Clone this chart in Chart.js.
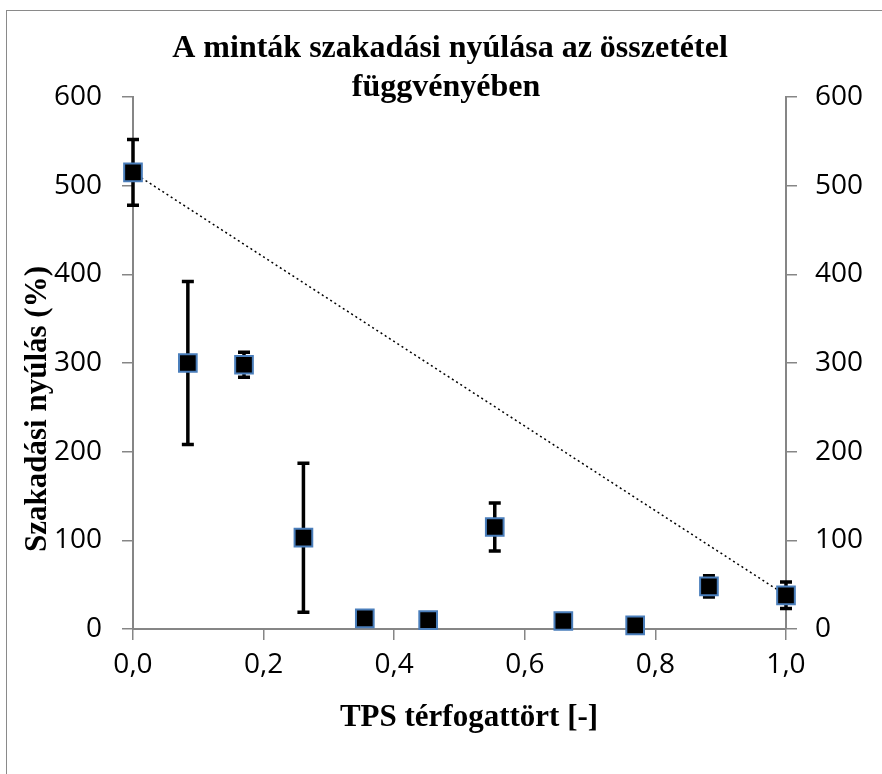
<!DOCTYPE html>
<html>
<head>
<meta charset="utf-8">
<script src="https://cdn.jsdelivr.net/npm/chart.js@4/dist/chart.umd.min.js"></script>
<style>
  html, body { margin: 0; padding: 0; background: #fff; overflow: hidden; }
  #wrap { position: relative; width: 882px; height: 774px; }
  #frame { position: absolute; left: 6px; top: 10px; width: 900px; height: 800px;
           border: 1.5px solid #8a8a8a; pointer-events: none; }
  canvas { position: absolute; left: 0; top: 0; }
</style>
</head>
<body>
<div id="wrap">
  <canvas id="myChart" width="882" height="774"></canvas>
  <div id="frame"></div>
</div>
<script>
// TPS volume fraction and elongation at break (%), with error bar half-widths
var tpsFraction = [0, 0.084, 0.170, 0.261, 0.355, 0.452, 0.554, 0.659, 0.769, 0.882, 1.0];
var elongation = [515, 300, 298, 103, 12, 10, 115, 9, 4, 48, 38];
var elongationErr = [37, 92, 14, 84, 0, 0, 27, 0, 0, 12, 15];
// dotted trend line end points
var trendX = [0, 1.0];
var trendY = [515, 38];

var titleLines = ['A minták szakadási nyúlása az összetétel', 'függvényében'];
var xTitle = 'TPS térfogattört [-]';
var yTitle = 'Szakadási nyúlás (%)';

var points = [];
for (var i = 0; i < tpsFraction.length; i++) {
  points.push({ x: tpsFraction[i], y: elongation[i] });
}
var trend = [];
for (var j = 0; j < trendX.length; j++) {
  trend.push({ x: trendX[j], y: trendY[j] });
}

var axisGray = '#868686';
var tickFont = { family: '"Open Sans", sans-serif', size: 28 };
var serif = '"Liberation Serif", "Times New Roman", serif';

// error bars drawn under the markers
var errorBars = {
  id: 'errorBars',
  beforeDatasetsDraw: function (chart) {
    var ctx = chart.ctx;
    var xs = chart.scales.x, ys = chart.scales.y;
    ctx.save();
    ctx.strokeStyle = '#000';
    ctx.lineWidth = 3.5;
    for (var k = 0; k < tpsFraction.length; k++) {
      if (!elongationErr[k]) continue;
      var px = xs.getPixelForValue(tpsFraction[k]);
      var top = ys.getPixelForValue(elongation[k] + elongationErr[k]);
      var bot = ys.getPixelForValue(elongation[k] - elongationErr[k]);
      ctx.beginPath();
      ctx.moveTo(px, top); ctx.lineTo(px, bot);
      ctx.moveTo(px - 6, top); ctx.lineTo(px + 6, top);
      ctx.moveTo(px - 6, bot); ctx.lineTo(px + 6, bot);
      ctx.stroke();
    }
    ctx.restore();
  }
};

// chart title and axis titles placed where Excel put them
var titles = {
  id: 'titles',
  afterDraw: function (chart) {
    var ctx = chart.ctx;
    ctx.save();
    ctx.fillStyle = '#000';
    ctx.textAlign = 'center';
    ctx.textBaseline = 'middle';
    ctx.font = 'bold 32px ' + serif;
    ctx.fillText(titleLines[0], 450, 49);
    ctx.fillText(titleLines[1], 446, 88);
    ctx.font = 'bold 31px ' + serif;
    ctx.fillText(xTitle, 469, 718);
    ctx.translate(38, 409);
    ctx.rotate(-Math.PI / 2);
    ctx.fillText(yTitle, 0, 0);
    ctx.restore();
  }
};

var ctx = document.getElementById('myChart').getContext('2d');
var chart = new Chart(ctx, {
  type: 'scatter',
  data: {
    datasets: [{
      label: 'trend',
      type: 'line',
      data: trend,
      borderColor: '#000',
      borderWidth: 1.5,
      borderDash: [2, 3],
      pointRadius: 0,
      fill: false,
      clip: false,
      order: 2
    }, {
      label: 'mért',
      data: points,
      pointStyle: 'rect',
      pointRadius: 12.5,
      pointBackgroundColor: '#000',
      pointBorderColor: '#4a7ebb',
      pointBorderWidth: 2,
      clip: false,
      order: 1
    }]
  },
  options: {
    responsive: false,
    animation: false,
    devicePixelRatio: 1,
    layout: { padding: { top: 97, left: 0, right: 0, bottom: 0 } },
    plugins: {
      legend: { display: false },
      tooltip: { enabled: false },
      title: { display: false }
    },
    scales: {
      x: {
        type: 'linear',
        position: 'bottom',
        min: 0, max: 1,
        afterFit: function (s) { s.height = 145; },
        ticks: {
          stepSize: 0.2,
          color: '#000',
          font: tickFont,
          padding: 8,
          maxRotation: 0,
          callback: function (v) { return v.toFixed(1).replace('.', ','); }
        },
        grid: { drawOnChartArea: false, tickLength: 11, color: axisGray, lineWidth: 1.5 },
        border: { color: axisGray, width: 2 }
      },
      y: {
        position: 'left',
        min: 0, max: 600,
        afterFit: function (s) { s.width = 133; },
        ticks: { stepSize: 100, color: '#000', font: tickFont, padding: 20 },
        grid: { drawOnChartArea: false, tickLength: 11, color: axisGray, lineWidth: 1.5 },
        border: { color: axisGray, width: 2 }
      },
      y2: {
        position: 'right',
        min: 0, max: 600,
        afterFit: function (s) { s.width = 96; },
        ticks: { stepSize: 100, color: '#000', font: tickFont, padding: 18 },
        grid: { drawOnChartArea: false, tickLength: 11, color: axisGray, lineWidth: 1.5 },
        border: { color: axisGray, width: 2 }
      }
    }
  },
  plugins: [errorBars, titles]
});
</script>
</body>
</html>
